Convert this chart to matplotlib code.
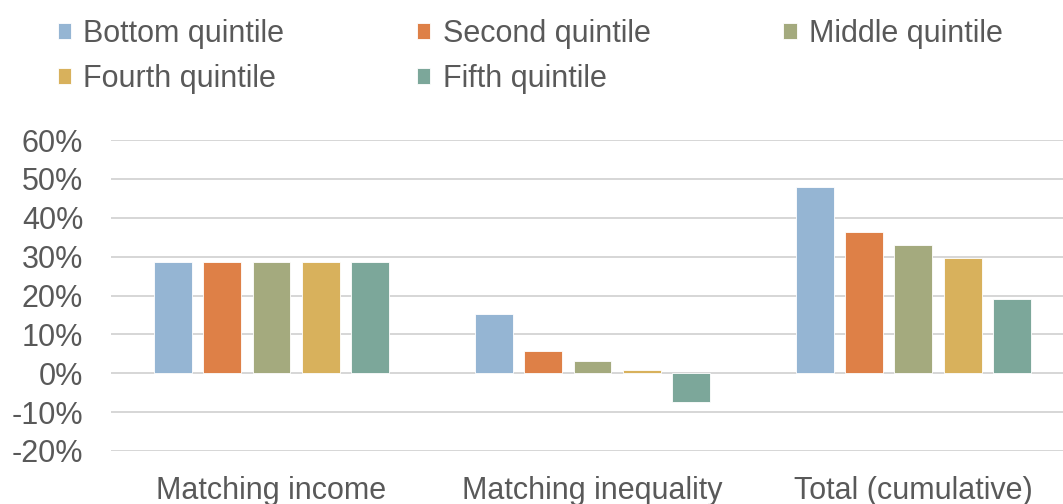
import numpy as np
import matplotlib.pyplot as plt
from matplotlib.ticker import FuncFormatter

plt.rcParams['font.family'] = ['Liberation Sans', 'DejaVu Sans']

# Datos
categorias = ['Matching income', 'Matching inequality', 'Total (cumulative)']
quintiles = ['Bottom quintile', 'Second quintile', 'Middle quintile',
             'Fourth quintile', 'Fifth quintile']
bottom = [28.5, 15.2, 47.9]
second = [28.5, 5.8, 36.3]
middle = [28.5, 3.2, 32.9]
fourth = [28.5, 0.9, 29.6]
fifth = [28.5, -7.3, 19.0]
series = [bottom, second, middle, fourth, fifth]
colores = ['#95B5D3', '#DE8047', '#A4AA7E', '#D8B15C', '#7CA79A']

gris = '#595959'
fs = 22

fig = plt.figure(figsize=(10.63, 5.04), dpi=100)
ax = fig.add_axes([111/1063, 53/504, 952/1063, 311/504])

x = np.arange(len(categorias))
ancho = 0.118
paso = 0.1534
barras = []
for i, (vals, col, lab) in enumerate(zip(series, colores, quintiles)):
    b = ax.bar(x + (i - 2) * paso, vals, ancho, color=col, label=lab,
               edgecolor='white', linewidth=0.6, zorder=3)
    barras.append(b)

ax.set_xlim(-0.5, 2.466)
ax.set_ylim(-20, 60)
ax.set_yticks(np.arange(-20, 61, 10))
ax.yaxis.set_major_formatter(FuncFormatter(lambda v, p: f'{v:.0f}%'))
ax.set_xticks(x)
ax.set_xticklabels(categorias)
ax.grid(axis='y', color='#D6D6D6', linewidth=1.4, zorder=0)
for s in ax.spines.values():
    s.set_visible(False)
ax.tick_params(axis='both', length=0, labelsize=fs, labelcolor=gris)
ax.tick_params(axis='y', pad=20)
ax.tick_params(axis='x', pad=18)

# Leyenda: 3 columnas, filas Bottom/Second/Middle y Fourth/Fifth
orden = [0, 3, 1, 4, 2]
fig.legend([barras[k] for k in orden], [quintiles[k] for k in orden],
           ncol=3, loc='upper left', bbox_to_anchor=(58/1063, 1 - 19/504),
           frameon=False, fontsize=fs, labelcolor=gris, borderpad=0,
           borderaxespad=0, handlelength=0.43, handleheight=0.43,
           handletextpad=0.4, columnspacing=4.35, labelspacing=0.48)

fig.savefig('out.png', dpi=100)
